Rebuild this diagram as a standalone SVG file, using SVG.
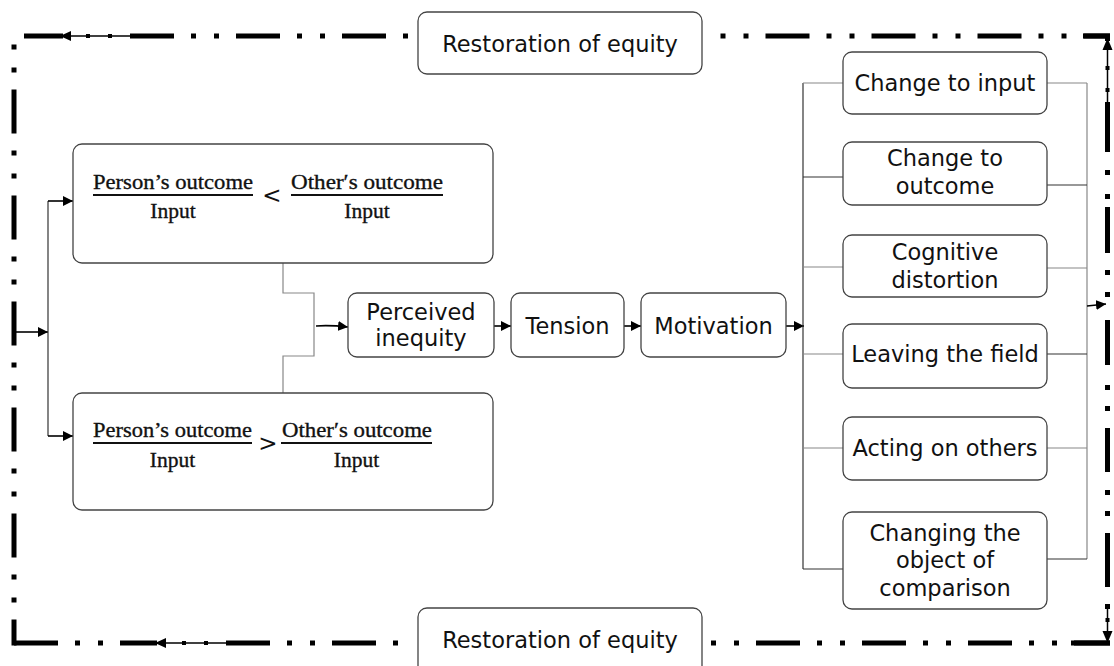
<svg xmlns="http://www.w3.org/2000/svg" width="1114" height="666" viewBox="0 0 1114 666">
<defs>
<marker id="ah" viewBox="0 0 10 10" refX="10" refY="5" markerWidth="10" markerHeight="10" markerUnits="userSpaceOnUse" orient="auto">
<path d="M0,0 L10,5 L0,10 z" fill="#000"/>
</marker>
<style>
.box{fill:#fff;stroke:#444;stroke-width:1.3}
.lbl{font-family:"DejaVu Sans",Verdana,sans-serif;font-size:22.5px;fill:#111;text-anchor:middle}
.frac{font-family:"Liberation Serif","DejaVu Serif",serif;font-size:21.5px;fill:#111;text-anchor:middle;stroke:#111;stroke-width:0.35}
.op{font-family:"DejaVu Sans",sans-serif;font-size:23px;fill:#111;text-anchor:middle}
.bar{stroke:#111;stroke-width:1.8}
.thin{fill:none;stroke:#888;stroke-width:1.2}
.dark{fill:none;stroke:#333;stroke-width:1.2}
.arr{fill:none;stroke:#000;stroke-width:1.6;marker-end:url(#ah)}
.fr{fill:none;stroke:#000;stroke-width:5;stroke-dasharray:44 17 5 18 5 17}
.frs{fill:none;stroke:#000;stroke-width:5}
.fthin{fill:none;stroke:#000;stroke-width:1.5}
.rseg{fill:#000}
</style>
</defs>
<g id="feedback">
<line class="frs" x1="24" y1="36" x2="63" y2="36"/>
<polygon points="60,36 71,31 71,41" fill="#000"/>
<line class="fthin" x1="71" y1="36" x2="130" y2="36"/>
<rect x="86" y="34" width="4" height="4" fill="#000"/>
<rect x="108" y="34" width="4" height="4" fill="#000"/>
<line class="fr" x1="130" y1="36" x2="410" y2="36"/>
<line class="fr" x1="712" y1="36" x2="1110" y2="36" stroke-dashoffset="52.5"/>
<line class="frs" x1="1083" y1="36" x2="1110" y2="36"/>
<rect class="rseg" x="1105" y="36" width="5" height="5"/>
<polygon points="1107.5,38 1102.5,50 1112.5,50" fill="#000"/>
<line class="fthin" x1="1107.5" y1="50" x2="1107.5" y2="102"/>
<rect x="1105.5" y="66" width="4" height="4" fill="#000"/>
<rect x="1105.5" y="88" width="4" height="4" fill="#000"/>
<rect class="rseg" x="1105" y="102" width="5" height="50"/>
<rect class="rseg" x="1105" y="170" width="5" height="5"/>
<rect class="rseg" x="1105" y="194" width="5" height="5"/>
<rect class="rseg" x="1105" y="207" width="5" height="46"/>
<rect class="rseg" x="1105" y="270" width="5" height="5"/>
<rect class="rseg" x="1105" y="292" width="5" height="5"/>
<rect class="rseg" x="1105" y="320" width="5" height="45"/>
<rect class="rseg" x="1105" y="385" width="5" height="5"/>
<rect class="rseg" x="1105" y="406" width="5" height="5"/>
<rect class="rseg" x="1105" y="428" width="5" height="44"/>
<rect class="rseg" x="1105" y="490" width="5" height="5"/>
<rect class="rseg" x="1105" y="511" width="5" height="5"/>
<rect class="rseg" x="1105" y="533" width="5" height="54"/>
<rect class="rseg" x="1105" y="604" width="5" height="5"/>
<line class="fthin" x1="1107.5" y1="609" x2="1107.5" y2="632"/>
<rect x="1105.5" y="618" width="4" height="4" fill="#000"/>
<polygon points="1107.5,643 1102.5,631 1112.5,631" fill="#000"/>
<line class="fr" x1="11.5" y1="643" x2="157" y2="643" stroke-dashoffset="-2.5"/>
<polygon points="155,643 166,638 166,648" fill="#000"/>
<line class="fthin" x1="166" y1="643" x2="226" y2="643"/>
<rect x="182" y="641" width="4" height="4" fill="#000"/>
<rect x="204" y="641" width="4" height="4" fill="#000"/>
<line class="fr" x1="226" y1="643" x2="412" y2="643"/>
<line class="fr" x1="705" y1="643" x2="1110" y2="643" stroke-dashoffset="55"/>
<line class="frs" x1="1071" y1="643" x2="1110" y2="643"/>
<line class="fr" x1="14" y1="44.5" x2="14" y2="645.5" stroke-dashoffset="61"/>
</g>
<g id="connectors">
<line class="arr" x1="16" y1="332" x2="48" y2="332"/>
<line class="dark" x1="48" y1="201" x2="48" y2="436"/>
<line class="arr" x1="48" y1="201" x2="73" y2="201"/>
<line class="arr" x1="48" y1="436" x2="73" y2="436"/>
<polyline class="thin" points="283,263 283,293 314,293 314,356 283,356 283,393"/>
<path class="arr" d="M316,326 Q330,325 348,327"/>
<line class="arr" x1="494" y1="326" x2="511" y2="326"/>
<line class="arr" x1="624" y1="326" x2="641" y2="326"/>
<line class="arr" x1="786" y1="326" x2="804" y2="326"/>
<line class="dark" x1="803" y1="83" x2="803" y2="569"/>
<line class="thin" x1="803" y1="83" x2="843" y2="83"/>
<line class="dark" x1="803" y1="177" x2="843" y2="177"/>
<line class="thin" x1="803" y1="267" x2="843" y2="267"/>
<line class="thin" x1="803" y1="354" x2="843" y2="354"/>
<line class="thin" x1="803" y1="448" x2="843" y2="448"/>
<line class="dark" x1="803" y1="569" x2="843" y2="569"/>
<line class="thin" x1="1087" y1="83" x2="1087" y2="559"/>
<line class="thin" x1="1047" y1="83" x2="1087" y2="83"/>
<line class="dark" x1="1047" y1="185" x2="1087" y2="185"/>
<line class="thin" x1="1047" y1="268" x2="1087" y2="268"/>
<line class="dark" x1="1047" y1="354" x2="1087" y2="354"/>
<line class="thin" x1="1047" y1="448" x2="1087" y2="448"/>
<line class="dark" x1="1047" y1="559" x2="1087" y2="559"/>
<line class="arr" x1="1087" y1="306" x2="1106" y2="304"/>
</g>
<g id="restore-top">
<rect class="box" x="418" y="12" width="284" height="62" rx="9"/>
<text class="lbl" x="560" y="52">Restoration of equity</text>
</g>
<g id="restore-bottom">
<rect class="box" x="418" y="608" width="284" height="72" rx="9"/>
<text class="lbl" x="560" y="648">Restoration of equity</text>
</g>
<g id="under-reward">
<rect class="box" x="73" y="144" width="420" height="119" rx="9"/>
<text class="frac" x="173" y="189" textLength="160" lengthAdjust="spacingAndGlyphs">Person’s outcome</text>
<line class="bar" x1="93" y1="195" x2="253" y2="195"/>
<text class="frac" x="173" y="218">Input</text>
<text class="op" x="272" y="203">&lt;</text>
<text class="frac" x="367" y="189" textLength="152" lengthAdjust="spacingAndGlyphs">Other′s outcome</text>
<line class="bar" x1="291" y1="195" x2="443" y2="195"/>
<text class="frac" x="367" y="218">Input</text>
</g>
<g id="over-reward">
<rect class="box" x="73" y="393" width="420" height="117" rx="9"/>
<text class="frac" x="172.5" y="437" textLength="159" lengthAdjust="spacingAndGlyphs">Person’s outcome</text>
<line class="bar" x1="93" y1="443" x2="252" y2="443"/>
<text class="frac" x="172.5" y="467">Input</text>
<text class="op" x="268" y="451" font-size="20">&gt;</text>
<text class="frac" x="357" y="437" textLength="150" lengthAdjust="spacingAndGlyphs">Other′s outcome</text>
<line class="bar" x1="281" y1="443" x2="432" y2="443"/>
<text class="frac" x="356.5" y="467">Input</text>
</g>
<g id="perceived-inequity">
<rect class="box" x="348" y="293" width="146" height="64" rx="9"/>
<text class="lbl" x="421" y="320">Perceived</text>
<text class="lbl" x="421" y="346">inequity</text>
</g>
<g id="tension">
<rect class="box" x="511" y="293" width="113" height="64" rx="9"/>
<text class="lbl" x="567.5" y="334">Tension</text>
</g>
<g id="motivation">
<rect class="box" x="641" y="293" width="145" height="64" rx="9"/>
<text class="lbl" x="713.5" y="334">Motivation</text>
</g>
<g id="change-input">
<rect class="box" x="843" y="52" width="204" height="62" rx="9"/>
<text class="lbl" x="945" y="91">Change to input</text>
</g>
<g id="change-outcome">
<rect class="box" x="843" y="142" width="204" height="63" rx="9"/>
<text class="lbl" x="945" y="166">Change to</text>
<text class="lbl" x="945" y="194">outcome</text>
</g>
<g id="cognitive-distortion">
<rect class="box" x="843" y="235" width="204" height="62" rx="9"/>
<text class="lbl" x="945" y="260">Cognitive</text>
<text class="lbl" x="945" y="288">distortion</text>
</g>
<g id="leaving-field">
<rect class="box" x="843" y="324" width="204" height="64" rx="9"/>
<text class="lbl" x="945" y="362">Leaving the field</text>
</g>
<g id="acting-others">
<rect class="box" x="843" y="417" width="204" height="63" rx="9"/>
<text class="lbl" x="945" y="456">Acting on others</text>
</g>
<g id="changing-object">
<rect class="box" x="843" y="512" width="204" height="97" rx="9"/>
<text class="lbl" x="945" y="541">Changing the</text>
<text class="lbl" x="945" y="568">object of</text>
<text class="lbl" x="945" y="596">comparison</text>
</g>
</svg>
